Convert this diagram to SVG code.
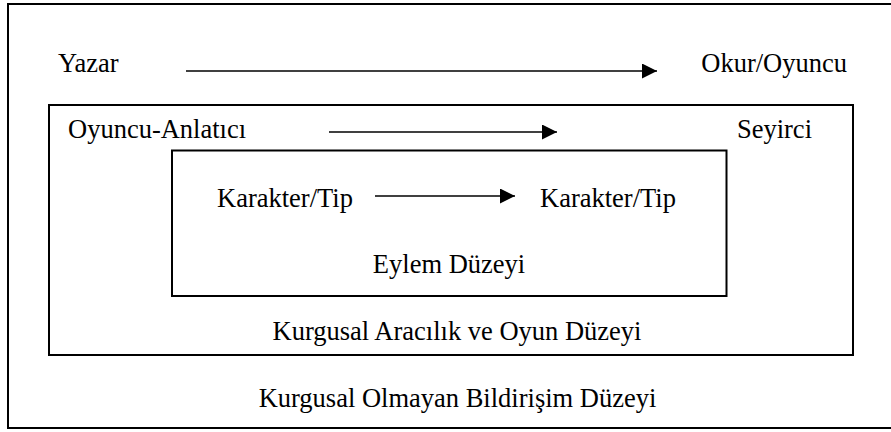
<svg xmlns="http://www.w3.org/2000/svg" width="891" height="432" viewBox="0 0 891 432">
  <style>
    .frame { fill: none; stroke: #000; stroke-width: 2; }
    .lbl { font-family: "Liberation Serif", "Times New Roman", serif; font-size: 26.5px; fill: #000; }
    .mid { text-anchor: middle; }
    .end { text-anchor: end; }
    .link { stroke: #000; stroke-width: 1.4; fill: none; marker-end: url(#head); }
  </style>
  <defs>
    <marker id="head" markerUnits="userSpaceOnUse" markerWidth="16" markerHeight="16" refX="15" refY="7.5" orient="auto">
      <path d="M0,0 L15,7.5 L0,15 Z" fill="#000"/>
    </marker>
  </defs>
  <rect width="891" height="432" fill="#fff"/>

  <!-- Non-fictional communication level -->
  <g id="level-outer">
    <rect class="frame" x="8" y="4" width="900" height="424"/>
    <text class="lbl mid" x="457.5" y="407">Kurgusal Olmayan Bildirişim Düzeyi</text>
  </g>

  <!-- Fictional mediation and play level -->
  <g id="level-middle">
    <rect class="frame" x="49" y="105" width="804" height="250"/>
    <text class="lbl mid" x="457" y="340">Kurgusal Aracılık ve Oyun Düzeyi</text>
  </g>

  <!-- Action level -->
  <g id="level-inner">
    <rect class="frame" x="172" y="150.5" width="554.5" height="145.5"/>
    <text class="lbl mid" x="449" y="273">Eylem Düzeyi</text>
  </g>

  <g id="yazar"><text class="lbl" x="58" y="72">Yazar</text></g>
  <g id="okur"><text class="lbl end" x="847" y="72">Okur/Oyuncu</text></g>
  <g id="anlatici"><text class="lbl" x="68" y="138">Oyuncu-Anlatıcı</text></g>
  <g id="seyirci"><text class="lbl end" x="812" y="138">Seyirci</text></g>
  <g id="karakter-a"><text class="lbl" x="217" y="206.5">Karakter/Tip</text></g>
  <g id="karakter-b"><text class="lbl" x="540" y="206.5">Karakter/Tip</text></g>

  <g id="connectors">
    <line class="link" x1="186" y1="71" x2="657" y2="71"/>
    <line class="link" x1="329" y1="132" x2="557" y2="132"/>
    <line class="link" x1="375" y1="196" x2="515" y2="196"/>
  </g>
</svg>
